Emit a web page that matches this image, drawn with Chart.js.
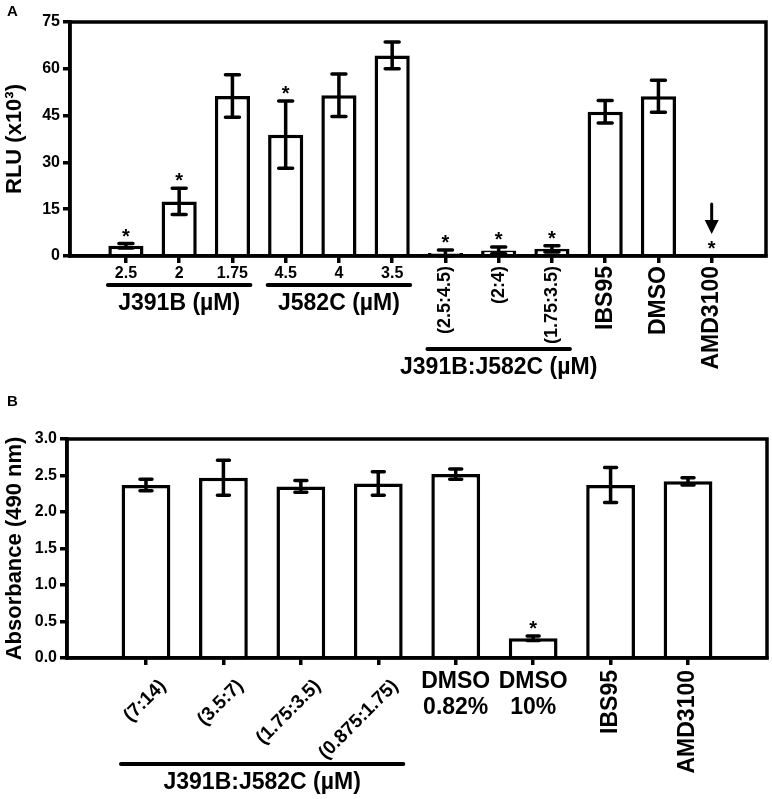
<!DOCTYPE html>
<html>
<head>
<meta charset="utf-8">
<script src="https://cdn.jsdelivr.net/npm/chart.js@4.4.1/dist/chart.umd.min.js"></script>
<style>
  body { margin: 0; background: #fff; }
  #wrap { position: relative; width: 772px; height: 799px; }
  .panel { position: absolute; left: 0; width: 772px; }
  #panelA { top: 0; height: 390px; }
  #panelB { top: 390px; height: 409px; }
</style>
</head>
<body>
<div id="wrap">
  <div class="panel" id="panelA"><canvas id="chartA" width="772" height="390"></canvas></div>
  <div class="panel" id="panelB"><canvas id="chartB" width="772" height="409"></canvas></div>
</div>
<script>
// ---- panel A : luciferase (RLU x10^3)
const catsA = ["2.5", "2", "1.75", "4.5", "4", "3.5", "(2.5:4.5)", "(2:4)", "(1.75:3.5)", "IBS95", "DMSO", "AMD3100"];
const rluA = [3.3, 17.5, 51.3, 38.9, 51.5, 64.3, 1.0, 1.8, 2.3, 46.2, 51.2, 0];
const errA = [0.7, 4.2, 6.8, 10.8, 6.8, 4.3, 0.9, 1.1, 1.0, 3.6, 5.1, 0];
const starA = [true, true, false, true, false, false, true, true, true, false, false, true];
const arrowA = [false, false, false, false, false, false, false, false, false, false, false, true];
const ticksA = [0, 15, 30, 45, 60, 75];
const groupsA = [["J391B (µM)", 0, 2], ["J582C (µM)", 3, 5], ["J391B:J582C (µM)", 6, 8]];

// ---- panel B : absorbance 490 nm
const catsB = ["(7:14)", "(3.5:7)", "(1.75:3.5)", "(0.875:1.75)", ["DMSO", "0.82%"], ["DMSO", "10%"], "IBS95", "AMD3100"];
const absB = [2.37, 2.47, 2.35, 2.39, 2.52, 0.27, 2.37, 2.42];
const errB = [0.08, 0.24, 0.08, 0.16, 0.07, 0.03, 0.24, 0.05];
const starB = [false, false, false, false, false, true, false, false];
const arrowB = [false, false, false, false, false, false, false, false];
const ticksB = [0, 0.5, 1, 1.5, 2, 2.5, 3];
const groupsB = [["J391B:J582C (µM)", 0, 3]];

const FONT = '"Liberation Sans", Arial, sans-serif';
Chart.defaults.font.family = FONT;
Chart.defaults.color = "#000";

function drawLabel(ctx, label, x, p) {
  ctx.save();
  ctx.fillStyle = "#000";
  if (Array.isArray(label)) {
    // stacked horizontal lines (DMSO / %)
    ctx.font = "bold 23px " + FONT;
    ctx.textAlign = "center";
    ctx.textBaseline = "middle";
    label.forEach((t, k) => ctx.fillText(t, x, p.lineY[k]));
  } else if (/^[\d.]+$/.test(label)) {
    ctx.font = "bold 16px " + FONT;
    ctx.textAlign = "center";
    ctx.textBaseline = "middle";
    ctx.fillText(label, x, p.numY);
  } else if (label[0] === "(") {
    ctx.textAlign = "right";
    ctx.textBaseline = "middle";
    if (p.slant) {
      ctx.translate(x + 17, p.labelTop + 13);
      ctx.rotate(-Math.PI / 4);
      ctx.font = "bold 19px " + FONT;
    } else {
      ctx.translate(x, p.labelTop);
      ctx.rotate(-Math.PI / 2);
      ctx.font = "bold 18px " + FONT;
    }
    ctx.fillText(label, 0, 0);
  } else {
    ctx.translate(x, p.labelTop);
    ctx.rotate(-Math.PI / 2);
    ctx.textAlign = "right";
    ctx.textBaseline = "middle";
    ctx.font = "bold 23px " + FONT;
    ctx.fillText(label, 0, 0);
  }
  ctx.restore();
}

function makePanel(id, p) {
  const extras = {
    id: "extras" + id,
    afterDraw(chart) {
      const ctx = chart.ctx;
      const xs = chart.scales.x, ys = chart.scales.y;
      const area = chart.chartArea;
      ctx.save();
      // frame
      ctx.strokeStyle = "#000";
      ctx.lineWidth = 3.5;
      ctx.strokeRect(area.left, area.top, area.right - area.left, area.bottom - area.top);

      // error bars, asterisks, arrow
      const meta = chart.getDatasetMeta(0);
      ctx.lineCap = "round";
      p.values.forEach((v, i) => {
        const x = meta.data[i].x;
        const yHi = ys.getPixelForValue(v + p.errors[i]);
        const yLo = ys.getPixelForValue(v - p.errors[i]);
        if (p.errors[i] > 0) {
          ctx.lineWidth = 3.5;
          ctx.beginPath();
          ctx.moveTo(x, yLo); ctx.lineTo(x, yHi);
          ctx.moveTo(x - p.cap, yHi); ctx.lineTo(x + p.cap, yHi);
          ctx.moveTo(x - p.cap, yLo); ctx.lineTo(x + p.cap, yLo);
          ctx.stroke();
        }
        if (p.stars[i]) {
          const cy = yHi - 13;
          ctx.font = "bold 20px " + FONT;
          ctx.textAlign = "center";
          ctx.textBaseline = "alphabetic";
          ctx.fillStyle = "#000";
          ctx.fillText("*", x, cy + 12);
          if (p.arrows[i]) {
            const tip = cy - 9;
            ctx.lineWidth = 3;
            ctx.beginPath();
            ctx.moveTo(x, tip - 30); ctx.lineTo(x, tip - 10);
            ctx.stroke();
            ctx.beginPath();
            ctx.moveTo(x - 7, tip - 14); ctx.lineTo(x + 7, tip - 14); ctx.lineTo(x, tip);
            ctx.closePath();
            ctx.fill();
          }
        }
      });

      // category labels
      p.cats.forEach((c, i) => drawLabel(ctx, c, xs.getPixelForValue(i), p));

      // group underlines and names
      p.groups.forEach((g, k) => {
        const x0 = xs.getPixelForValue(g[1]) - p.under;
        const x1 = xs.getPixelForValue(g[2]) + p.under;
        const y = p.groupY[k];
        ctx.lineWidth = 4;
        ctx.beginPath();
        ctx.moveTo(x0, y); ctx.lineTo(x1, y);
        ctx.stroke();
        ctx.font = "bold 23px " + FONT;
        ctx.textAlign = "center";
        ctx.textBaseline = "middle";
        ctx.fillText(g[0], (x0 + x1) / 2, y + 19);
      });

      // panel letter
      ctx.font = "bold 15px " + FONT;
      ctx.textAlign = "left";
      ctx.textBaseline = "alphabetic";
      ctx.fillText(p.letter, 7, p.letterY);
      ctx.restore();
    }
  };

  return new Chart(document.getElementById(id), {
    type: "bar",
    data: {
      datasets: [{
        data: p.values.map((v, i) => ({ x: i, y: v })),
        backgroundColor: "#fff",
        borderColor: "#000",
        borderWidth: 3.5,
        borderSkipped: "start",
        categoryPercentage: 1,
        barPercentage: p.barPct
      }]
    },
    options: {
      responsive: false,
      animation: false,
      devicePixelRatio: 1,
      layout: { padding: { top: p.top, right: p.right, left: 0, bottom: 0 } },
      plugins: { legend: { display: false }, tooltip: { enabled: false } },
      scales: {
        x: {
          type: "linear",
          offset: false,
          min: p.xMin,
          max: p.xMax,
          afterBuildTicks: s => { s.ticks = p.cats.map((c, i) => ({ value: i })); },
          afterFit: s => { s.height = p.xHeight; },
          ticks: { display: false },
          grid: { offset: false, drawOnChartArea: false, tickLength: 7, color: "#000", lineWidth: 3.5 },
          border: { color: "#000", width: 3.5 }
        },
        y: {
          min: p.ticks[0],
          max: p.ticks[p.ticks.length - 1],
          afterBuildTicks: s => { s.ticks = p.ticks.map(v => ({ value: v })); },
          afterFit: s => { s.width = p.yWidth; },
          ticks: {
            font: { size: 16, weight: "bold" },
            color: "#000",
            padding: 3,
            callback: p.tickFmt
          },
          grid: { drawOnChartArea: false, tickLength: 7, color: "#000", lineWidth: 3.5 },
          border: { color: "#000", width: 3.5 },
          title: {
            display: true,
            text: p.yTitle,
            font: { size: 22, weight: "bold" },
            color: "#000",
            padding: { top: 2, bottom: 0 }
          }
        }
      }
    },
    plugins: [extras]
  });
}

makePanel("chartA", {
  cats: catsA, values: rluA, errors: errA, stars: starA, arrows: arrowA,
  ticks: ticksA, groups: groupsA, tickFmt: v => String(v),
  yTitle: "RLU (x10³)", letter: "A", letterY: 16,
  top: 22, right: 6, yWidth: 70, xHeight: 134,
  xMin: -1.05, xMax: 12.02, barPct: 0.66, cap: 7, under: 18,
  numY: 274, labelTop: 266, groupY: [285, 285, 349], slant: false
});

makePanel("chartB", {
  cats: catsB, values: absB, errors: errB, stars: starB, arrows: arrowB,
  ticks: ticksB, groups: groupsB, tickFmt: v => v.toFixed(1),
  yTitle: "Absorbance (490 nm)", letter: "B", letterY: 16,
  top: 49, right: 5, yWidth: 67, xHeight: 141,
  xMin: -1.02, xMax: 8.02, barPct: 0.63, cap: 6, under: 25,
  numY: 0, labelTop: 280, lineY: [292, 318], groupY: [374], slant: true
});
</script>
</body>
</html>
